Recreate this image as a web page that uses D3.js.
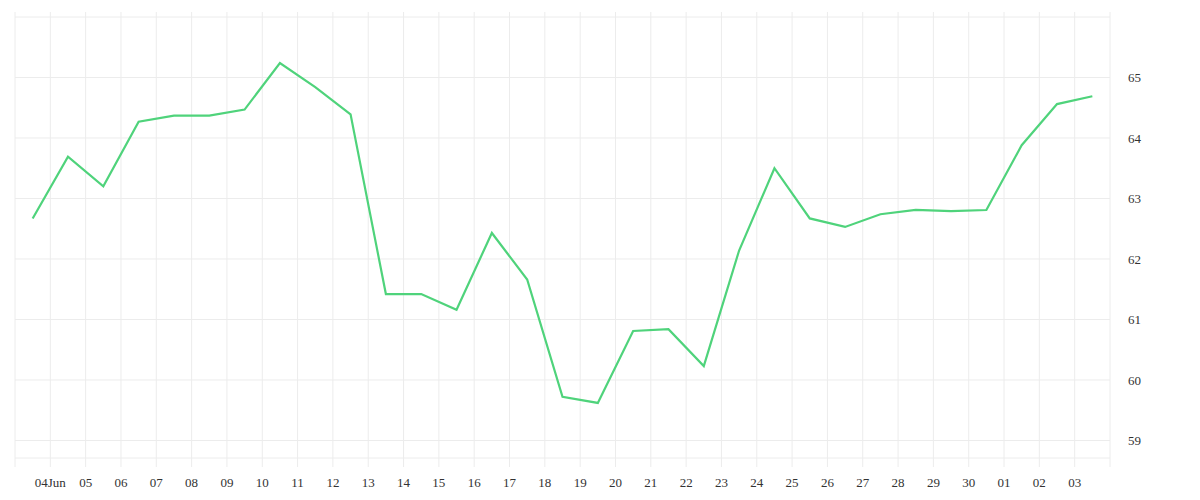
<!DOCTYPE html>
<html>
<head>
<meta charset="utf-8">
<script src="https://cdn.jsdelivr.net/npm/d3@7"></script>
<style>
  body { margin: 0; background: #fff; }
  text { font-family: "Liberation Serif", "DejaVu Serif", serif; font-size: 13px; fill: #333; }
</style>
</head>
<body>
<script>
// Daily values, one per day (plotted at noon), 03 Jun .. 03 Jul
var startDate = "2024-06-03";
var values = [62.67, 63.69, 63.20, 64.27, 64.37, 64.37, 64.47, 65.24, 64.84, 64.39,
              61.42, 61.42, 61.16, 62.43, 61.66, 59.72, 59.62, 60.81, 60.84, 60.23,
              62.14, 63.50, 62.67, 62.53, 62.74, 62.81, 62.79, 62.81, 63.88, 64.56, 64.69];
var yTicks = [59, 60, 61, 62, 63, 64, 65];

var width = 1200, height = 500;
var margin = {top: 17, right: 90, bottom: 42, left: 15};

var parse = d3.timeParse("%Y-%m-%d");
var start = parse(startDate);
var data = values.map(function(v, i) {
    return { date: d3.timeHour.offset(d3.timeDay.offset(start, i), 12), value: v };
});
var end = d3.timeDay.offset(start, values.length);

var svg = d3.select("body").append("svg")
    .attr("width", width)
    .attr("height", height);

var x = d3.scaleTime()
    .domain([start, end])
    .range([margin.left, width - margin.right]);

var y = d3.scaleLinear()
    .domain([58.71, 66])
    .range([height - margin.bottom, margin.top]);

// grid
var days = d3.timeDay.range(start, d3.timeDay.offset(end, 1));
svg.append("g").selectAll("line.v")
    .data(days)
    .enter().append("line")
    .attr("x1", function(d) { return x(d); })
    .attr("x2", function(d) { return x(d); })
    .attr("y1", margin.top - 5)
    .attr("y2", height - margin.bottom + 9)
    .attr("stroke", "#ececec")
    .attr("stroke-width", 1);

svg.append("g").selectAll("line.h")
    .data(yTicks.concat([66, 58.71]))
    .enter().append("line")
    .attr("x1", margin.left)
    .attr("x2", width - margin.right)
    .attr("y1", function(d) { return y(d); })
    .attr("y2", function(d) { return y(d); })
    .attr("stroke", "#ececec")
    .attr("stroke-width", 1);

// x labels
var labelDays = d3.timeDay.range(d3.timeDay.offset(start, 1), end);
svg.append("g").selectAll("text")
    .data(labelDays)
    .enter().append("text")
    .attr("x", function(d) { return x(d); })
    .attr("y", height - 13)
    .attr("text-anchor", "middle")
    .text(function(d) {
        return d.getDate() === 4 && d.getMonth() === 5 ? d3.timeFormat("%d%b")(d) : d3.timeFormat("%d")(d);
    });

// y labels
svg.append("g").selectAll("text")
    .data(yTicks)
    .enter().append("text")
    .attr("x", width - margin.right + 18)
    .attr("y", function(d) { return y(d); })
    .attr("dy", "0.35em")
    .text(function(d) { return d; });

// line
var line = d3.line()
    .x(function(d) { return x(d.date); })
    .y(function(d) { return y(d.value); });

svg.append("path")
    .datum(data)
    .attr("fill", "none")
    .attr("stroke", "#4fd37b")
    .attr("stroke-width", 2.2)
    .attr("stroke-linejoin", "miter")
    .attr("d", line);
</script>
</body>
</html>
